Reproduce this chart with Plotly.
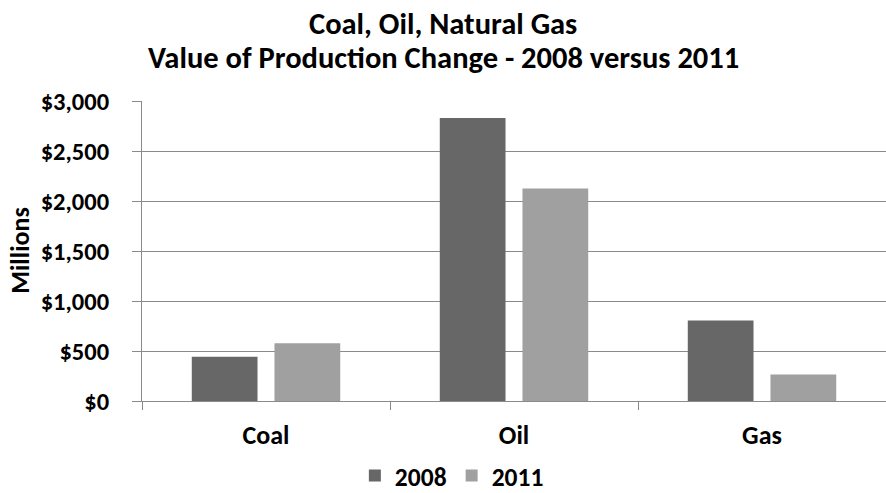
import plotly.graph_objects as go

categories = ["Coal", "Oil", "Gas"]
values_2008 = [442, 2831, 804]
values_2011 = [578, 2126, 266]
series_names = ["2008", "2011"]
tick_vals = [0, 500, 1000, 1500, 2000, 2500, 3000]
tick_text = ["$0", "$500", "$1,000", "$1,500", "$2,000", "$2,500", "$3,000"]
title_lines = ["Coal, Oil, Natural Gas", "Value of Production Change - 2008 versus 2011"]

FONT = "Carlito, 'Liberation Sans Narrow', 'Open Sans', sans-serif"
PLOT_TOP, PLOT_BOTTOM = 101, 401.5
PH = PLOT_BOTTOM - PLOT_TOP

def py(ypix):
    return (PLOT_BOTTOM - ypix) / PH

fig = go.Figure()
fig.add_trace(go.Bar(x=categories, y=values_2008, name=series_names[0],
                     marker=dict(color="#676767", line=dict(width=0))))
fig.add_trace(go.Bar(x=categories, y=values_2011, name=series_names[1],
                     marker=dict(color="#a0a0a0", line=dict(width=0))))

for txt, ypix in zip(title_lines, [23, 57]):
    fig.add_annotation(text="<b>%s</b>" % txt, xref="paper", yref="paper",
                       x=(443 - 142) / 744, y=py(ypix), xanchor="center", yanchor="middle",
                       showarrow=False, font=dict(family=FONT, size=30.5, color="black"))

fig.add_annotation(text="<b>Millions</b>", xref="paper", yref="paper",
                   x=(20 - 142) / 744, y=py(251), xanchor="center", yanchor="middle",
                   textangle=-90, showarrow=False,
                   font=dict(family=FONT, size=26, color="black"))

fig.update_layout(
    width=886, height=493,
    paper_bgcolor="white", plot_bgcolor="white",
    margin=dict(l=142, r=0, t=int(PLOT_TOP), b=92),
    barmode="group", bargap=0.333, bargroupgap=0.205,
    font=dict(family=FONT, color="black", size=20),
    showlegend=True,
    legend=dict(orientation="h", x=0.51, xanchor="center", xref="container",
                y=(493 - 476) / 493, yref="container", yanchor="middle",
                font=dict(family=FONT, size=25.5, color="black", weight="bold"),
                itemwidth=30, traceorder="normal"),
    xaxis=dict(showline=True, linecolor="#8a8a8a", linewidth=1, automargin=False,
               ticks="outside", tickson="boundaries", ticklen=8, tickcolor="#8a8a8a",
               tickfont=dict(family=FONT, size=26, color="black", weight="bold"),
               ticklabelstandoff=11, showgrid=False, zeroline=False),
    yaxis=dict(range=[0, 3000], tickvals=tick_vals, ticktext=tick_text, automargin=False,
               showline=True, linecolor="#8a8a8a", linewidth=1,
               ticks="outside", ticklen=9, tickcolor="#8a8a8a",
               showgrid=True, gridcolor="#8a8a8a", gridwidth=1, zeroline=False,
               tickfont=dict(family=FONT, size=24.5, color="black", weight="bold"),
               ticklabelstandoff=18),
)

fig.write_html("out.html", config={"displayModeBar": False},
               post_script="document.body.style.margin='0';document.body.style.padding='0';")
